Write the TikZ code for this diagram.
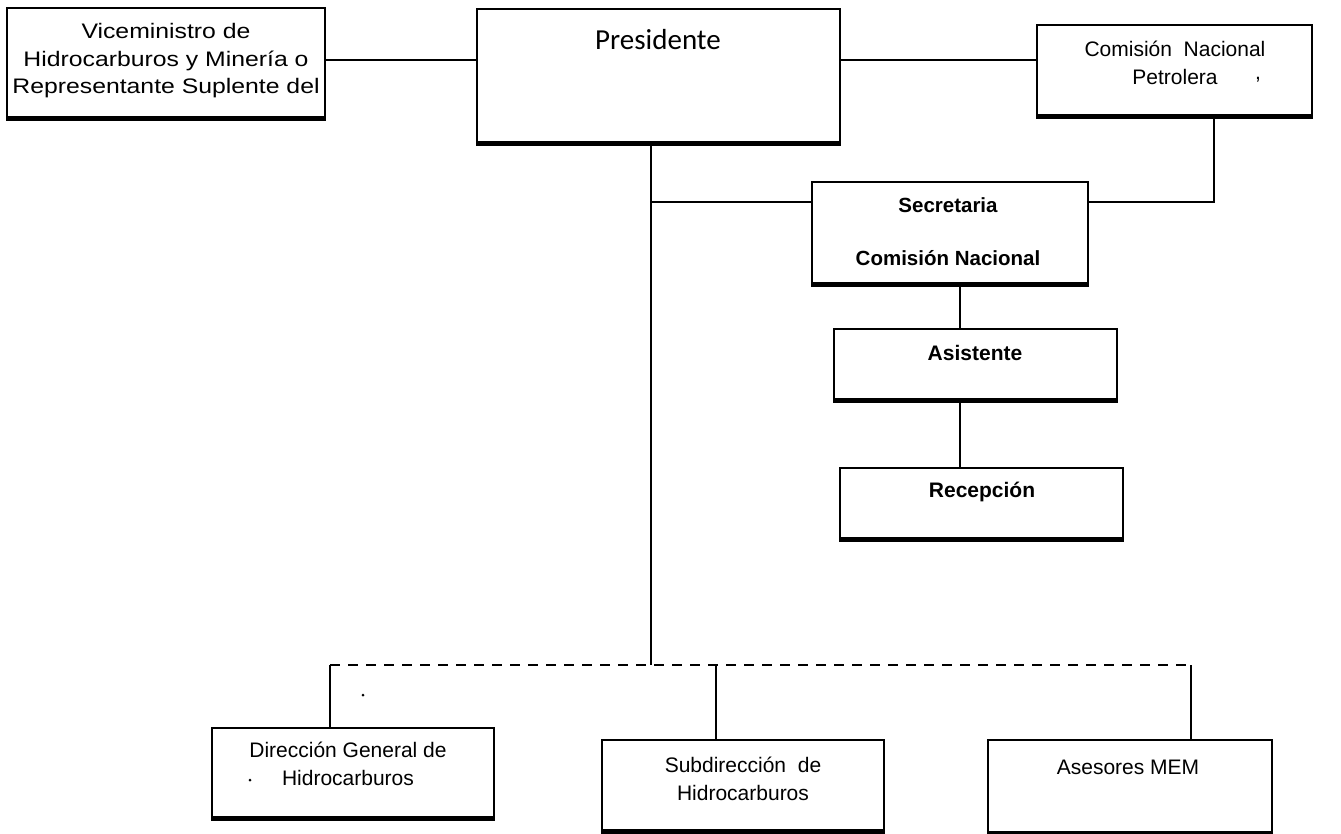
\documentclass[tikz,border=0pt]{standalone}
\usepackage{fontspec}
\setmainfont{Liberation Sans}
\newfontfamily\calfont{Carlito}
\newfontfamily\vicefont[FakeStretch=1.18]{Liberation Sans}
\begin{document}
\begin{tikzpicture}[x=1pt,y=-1pt,
  orgbox/.style={draw, line width=1.8pt, inner sep=0pt, fill=white},
  lbl/.style={font=\fontsize{21}{28}\selectfont, align=center, inner sep=0pt},
  blbl/.style={font=\fontsize{20.5}{28}\selectfont\bfseries, align=center, inner sep=0pt},
  link/.style={line width=2pt},
  dlink/.style={line width=2pt, dash pattern=on 10pt off 8pt},
  shade/.style={line width=3pt}
]
\useasboundingbox (0,0) rectangle (1341,834);

% boxes
\node[orgbox, minimum width=318pt, minimum height=109pt] (vice) at (166,62.5) {};
\node[orgbox, minimum width=363pt, minimum height=133pt] (pres) at (658.5,75.5) {};
\node[orgbox, minimum width=275pt, minimum height=90pt] (cnp) at (1174.5,70) {};
\node[orgbox, minimum width=276pt, minimum height=101pt] (sec) at (950,232.5) {};
\node[orgbox, minimum width=283pt, minimum height=70pt] (asis) at (975.5,364) {};
\node[orgbox, minimum width=283pt, minimum height=70pt] (rec) at (981.5,503) {};
\node[orgbox, minimum width=282pt, minimum height=89pt] (dir) at (353,772.5) {};
\node[orgbox, minimum width=282pt, minimum height=90pt] (sub) at (743,785) {};
\node[orgbox, minimum width=284pt, minimum height=92pt] (ase) at (1130,786) {};

% thicker lower edges (scan look)
\foreach \b in {vice,pres,cnp,sec,asis,rec,dir,sub,ase}{
  \draw[shade] ([yshift=-1.5pt]\b.south west) -- ([yshift=-1.5pt]\b.south east);
}

% texts
\node[lbl, font=\fontsize{21}{27.5}\selectfont\vicefont] (tvice) at (166,61)
  {Viceministro de\\Hidrocarburos y Minería o\\Representante Suplente del};
\node[inner sep=0pt, font=\fontsize{29}{32}\selectfont\calfont] (tpres) at (658,40) {Presidente};
\node[lbl] (tcnp) at (1175,63) {Comisión~ Nacional\\Petrolera};
\node[lbl] (tcomma) at (1258,80) {,};
\node[blbl] (tsec1) at (948,205) {Secretaria};
\node[blbl] (tsec2) at (948,258) {Comisión Nacional};
\node[blbl, font=\fontsize{21}{28}\selectfont\bfseries] (tasis) at (975,353) {Asistente};
\node[blbl, font=\fontsize{21}{28}\selectfont\bfseries] (trec) at (982,492) {Recepción};
\node[lbl] (tdir) at (348,764) {Dirección General de\\Hidrocarburos};
\node[lbl] (tsub) at (743,779) {Subdirección~ de\\Hidrocarburos};
\node[lbl] (tase) at (1128,767) {Asesores MEM};

% stray marks
\fill (363,695) circle (1.5pt);
\fill (250,780) circle (1.5pt);

% connector coordinates
\coordinate (cnpdrop) at (1214,202);
\coordinate (trunk) at (651,665);
\coordinate (sx) at (960,0);
\coordinate (dl) at (330,665);
\coordinate (ds) at (716,665);
\coordinate (dr) at (1191,665);
\coordinate (topy) at (0,60);

% connectors
\draw[link] (topy -| vice.east) -- (topy -| pres.west);
\draw[link] (topy -| pres.east) -- (topy -| cnp.west);
\draw[link] (cnpdrop |- cnp.south) -- (cnpdrop) -- (cnpdrop -| sec.east);
\draw[link] (trunk |- pres.south) -- (trunk);
\draw[link] (trunk |- cnpdrop) -- (cnpdrop -| sec.west);
\draw[link] (sx |- sec.south) -- (sx |- asis.north);
\draw[link] (sx |- asis.south) -- (sx |- rec.north);
\draw[dlink] (dl) -- (dr);
\draw[link] (dl) -- (dl |- dir.north);
\draw[link] (ds) -- (ds |- sub.north);
\draw[link] (dr) -- (dr |- ase.north);
\end{tikzpicture}
\end{document}
